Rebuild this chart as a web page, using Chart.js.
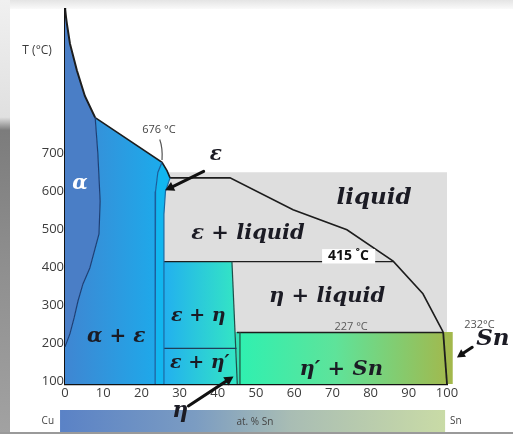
<!DOCTYPE html>
<html>
<head>
<meta charset="utf-8">
<script src="https://cdn.jsdelivr.net/npm/chart.js@4"></script>
<style>
  html, body { margin: 0; padding: 0; background: #fff; }
  #wrap { position: relative; width: 513px; height: 434px; overflow: hidden; }
  #topband { position: absolute; left: 0; top: 0; width: 513px; height: 9px;
             background: linear-gradient(#e4e4e4, #fafafa); }
  #leftband { position: absolute; left: 0; top: 0; width: 10px; height: 434px;
              background: linear-gradient(#f0f0f0 0%, #e0e0e0 27%, #7c7c7c 30%, #8e8e8e 60%, #a2a2a2 100%); }
  #bottomband { position: absolute; left: 0; top: 432px; width: 513px; height: 2px; background: #9a9a9a; }
  canvas { position: absolute; left: 0; top: 0; }
</style>
</head>
<body>
<div id="wrap">
  <div id="topband"></div>
  <div id="leftband"></div>
  <div id="bottomband"></div>
  <canvas id="c" width="513" height="434"></canvas>
</div>
<script>
// Axis ticks
const xTicks = [0, 10, 20, 30, 40, 50, 60, 70, 80, 90, 100];
const yTicks = [100, 200, 300, 400, 500, 600, 700];
const T_MIN = 92, T_MAX = 1082;

// Phase boundaries, [at.% Sn, T (°C)]
const cuLiquidus = [[0, 1080], [0.5, 1042], [1.3, 990], [3.1, 920], [5.2, 852], [7.9, 795]];
const upperLiquidus = [[7.9, 795], [25.4, 677], [26.7, 655], [27.5, 636], [43.2, 636],
                       [59.7, 552], [73.8, 499], [85.9, 416], [93.7, 330], [99, 229]];
const alphaSolvus = [[7.9, 795], [8.6, 700], [9.2, 575], [8.9, 488], [6.5, 398],
                     [4.7, 356], [3.4, 311], [2.4, 267], [1.3, 225], [0, 190]];
const epsLeft = [[25.4, 677], [24.3, 650], [23.7, 600], [23.6, 92]];
const epsRight = [[27.5, 636], [26.3, 600], [25.9, 540], [25.9, 92]];
const line415 = [[25.9, 415], [85.9, 415]];
const epsEtaRight = [[43.7, 415], [45.1, 92]];
const etaPrimeLeft = [[45.8, 229], [45.8, 92]];
const line186 = [[25.9, 186], [44.9, 186]];
const line227 = [[45, 228], [99, 228]];
const snEdge = [[99, 229], [100, 92]];

// Phase fields
const liquidBox = [[25.9, 651], [100, 651], [100, 92], [25.9, 92]];
const epsField = [[25.4, 677], [26.7, 655], [27.5, 636], [26.3, 600], [25.9, 540], [25.9, 92],
                  [23.6, 92], [23.7, 600], [24.3, 650]];
const etaStrip = [[44.6, 229], [45.8, 229], [45.8, 92], [45.1, 92]];
const etaPrimeSn = [[45.8, 229], [101.5, 229], [101.5, 92], [45.8, 92]];

const pts = a => a.map(([x, y]) => ({ x, y }));

function polyPath(ctx, sx, sy, arr) {
  ctx.beginPath();
  arr.forEach(([x, y], i) => {
    const px = sx.getPixelForValue(x), py = sy.getPixelForValue(y);
    if (i === 0) ctx.moveTo(px, py); else ctx.lineTo(px, py);
  });
  ctx.closePath();
}

function hGrad(ctx, sx, x0, x1, stops) {
  const g = ctx.createLinearGradient(sx.getPixelForValue(x0), 0, sx.getPixelForValue(x1), 0);
  stops.forEach(([o, c]) => g.addColorStop(o, c));
  return g;
}

function arrow(ctx, x1, y1, x2, y2, w, head) {
  const a = Math.atan2(y2 - y1, x2 - x1);
  ctx.save();
  ctx.strokeStyle = '#111'; ctx.fillStyle = '#111'; ctx.lineWidth = w; ctx.lineCap = 'round';
  ctx.beginPath();
  ctx.moveTo(x1, y1);
  ctx.lineTo(x2 - Math.cos(a) * head * 0.7, y2 - Math.sin(a) * head * 0.7);
  ctx.stroke();
  ctx.beginPath();
  ctx.moveTo(x2, y2);
  ctx.lineTo(x2 - head * Math.cos(a) + head * 0.55 * Math.sin(a), y2 - head * Math.sin(a) - head * 0.55 * Math.cos(a));
  ctx.lineTo(x2 - head * Math.cos(a) - head * 0.55 * Math.sin(a), y2 - head * Math.sin(a) + head * 0.55 * Math.cos(a));
  ctx.closePath();
  ctx.fill();
  ctx.restore();
}

const phaseFont = s => 'italic bold ' + s + 'px "DejaVu Serif"';

const phaseFields = {
  id: 'phaseFields',
  beforeDatasetsDraw(chart) {
    const { ctx, scales: { x: sx, y: sy } } = chart;
    ctx.save();
    // liquid / two-phase liquid fields
    polyPath(ctx, sx, sy, liquidBox);
    ctx.fillStyle = '#dedede'; ctx.fill();
    // alpha
    polyPath(ctx, sx, sy, cuLiquidus.concat(alphaSolvus.slice(1)));
    ctx.fillStyle = '#4a7ec6'; ctx.fill();
    // alpha + epsilon
    const aePoly = upperLiquidus.slice(0, 2).concat(epsLeft.slice(1), [[0, 92]], alphaSolvus.slice().reverse());
    polyPath(ctx, sx, sy, aePoly);
    ctx.fillStyle = hGrad(ctx, sx, 0, 24, [[0, '#3f86d2'], [1, '#1ea9ea']]); ctx.fill();
    // epsilon
    polyPath(ctx, sx, sy, epsField);
    ctx.fillStyle = '#12b6ef'; ctx.fill();
    // epsilon + eta
    polyPath(ctx, sx, sy, [line415[0], epsEtaRight[0], epsEtaRight[1], [25.9, 92]]);
    ctx.fillStyle = hGrad(ctx, sx, 25.9, 44, [[0, '#22b0ef'], [1, '#33e3c6']]); ctx.fill();
    // eta
    polyPath(ctx, sx, sy, etaStrip);
    ctx.fillStyle = '#33dfb6'; ctx.fill();
    // eta' + Sn
    polyPath(ctx, sx, sy, etaPrimeSn);
    ctx.fillStyle = hGrad(ctx, sx, 46, 101, [[0, '#30f0b0'], [0.45, '#5ee39a'], [1, '#a3b84c']]); ctx.fill();

    // 227 °C label sits under the eutectic line
    ctx.font = '11px "Open Sans"';
    ctx.fillStyle = '#5a5a5a'; ctx.textAlign = 'center'; ctx.textBaseline = 'middle';
    ctx.fillText('227 °C', sx.getPixelForValue(74.9), sy.getPixelForValue(243));
    ctx.restore();
  },
  afterDatasetsDraw(chart) {
    const { ctx, chartArea, scales: { x: sx, y: sy } } = chart;
    const X = v => sx.getPixelForValue(v), Y = v => sy.getPixelForValue(v);
    ctx.save();
    ctx.textAlign = 'center'; ctx.textBaseline = 'middle';

    // composition bar
    const bx0 = X(-1.3), bx1 = X(99.5), by0 = chartArea.bottom + 26, bh = 22;
    const g = ctx.createLinearGradient(bx0, 0, bx1, 0);
    g.addColorStop(0, '#5a82c6'); g.addColorStop(0.35, '#7b9cc2');
    g.addColorStop(0.6, '#a9bdb4'); g.addColorStop(1, '#c9dba6');
    ctx.fillStyle = g; ctx.fillRect(bx0, by0, bx1 - bx0, bh);
    ctx.fillStyle = '#444'; ctx.font = '10px "Open Sans"';
    ctx.textAlign = 'right'; ctx.fillText('Cu', bx0 - 6, by0 + 11);
    ctx.textAlign = 'left'; ctx.fillText('Sn', bx1 + 5, by0 + 11);
    ctx.textAlign = 'center'; ctx.fillText('at. % Sn', X(49.7), by0 + 12);

    // phase names
    ctx.fillStyle = '#1b1b24';
    ctx.font = phaseFont(23); ctx.fillText('liquid', X(80.9), Y(583));
    ctx.font = phaseFont(21); ctx.fillText('ε + liquid', X(47.9), Y(488));
    ctx.font = phaseFont(21); ctx.fillText('η + liquid', X(68.6), Y(322));
    ctx.font = phaseFont(20); ctx.fillText('α + ε', X(13.4), Y(217));
    ctx.font = phaseFont(19); ctx.fillText('ε + η', X(34.9), Y(272));
    ctx.font = phaseFont(19); ctx.fillText('ε + η′', X(35.3), Y(146));
    ctx.font = phaseFont(21); ctx.fillText('η′ + Sn', X(72.3), Y(131));
    ctx.fillStyle = '#ffffff';
    ctx.font = phaseFont(20); ctx.fillText('α', X(3.9), Y(619));

    // 415 °C tag on white
    ctx.fillStyle = '#ffffff';
    ctx.fillRect(X(67.3), Y(448), X(81.2) - X(67.3), Y(410) - Y(448));
    ctx.fillStyle = '#111';
    ctx.font = 'bold 14px "Open Sans"';
    ctx.fillText('415 ˚C', X(74.2), Y(429));

    // 676 °C with leader
    ctx.fillStyle = '#444'; ctx.font = '11px "Open Sans"';
    ctx.fillText('676 °C', X(24.6), Y(763));
    ctx.strokeStyle = '#555'; ctx.lineWidth = 1.2;
    ctx.beginPath();
    ctx.moveTo(X(24.8), Y(737));
    ctx.quadraticCurveTo(X(25.6), Y(715), X(25.4), Y(683));
    ctx.stroke();

    // epsilon pointer
    ctx.fillStyle = '#1b1b24'; ctx.font = phaseFont(20);
    ctx.fillText('ε', X(39.5), Y(697));
    arrow(ctx, X(36.3), Y(653), X(26.2), Y(603), 3, 9);

    // eta pointer below the axis
    ctx.fillStyle = '#1b1b24'; ctx.font = phaseFont(22);
    ctx.fillText('η', X(30.2), Y(20));
    arrow(ctx, X(32.3), Y(34), X(44.1), Y(112), 3, 9);

    // Sn end member
    ctx.fillStyle = '#555'; ctx.font = '11px "Open Sans"';
    ctx.fillText('232°C', X(108.5), Y(249));
    ctx.fillStyle = '#1b1b24'; ctx.font = phaseFont(23);
    ctx.fillText('Sn', X(112), Y(210));
    arrow(ctx, X(106.6), Y(189), X(102.6), Y(162), 3, 8);

    // axis caption
    ctx.fillStyle = '#3c3c3c'; ctx.font = '12px "Open Sans"';
    ctx.fillText('T (°C)', X(-7.3), Y(972));
    ctx.restore();
  }
};

const blackLine = (data, w) => ({ data: pts(data), borderColor: '#1d1d1d', borderWidth: w || 1.6 });
const thinLine = (data, c) => ({ data: pts(data), borderColor: c, borderWidth: 1.2 });

const datasets = [
  thinLine(alphaSolvus, '#1d3f75'),
  thinLine(epsLeft, '#1b5d9c'),
  thinLine(epsRight, '#1b6aa3'),
  thinLine(line186, '#1f3f5a'),
  thinLine(epsEtaRight, '#1f4f4a'),
  thinLine(etaPrimeLeft, '#1f4f3a'),
  blackLine(cuLiquidus, 2),
  blackLine(upperLiquidus, 1.6),
  blackLine(line415, 1.4),
  blackLine(line227, 1.6),
  blackLine(snEdge, 1.8)
].map(d => Object.assign(d, { showLine: true, pointRadius: 0, fill: false, clip: 6 }));

new Chart(document.getElementById('c'), {
  type: 'scatter',
  data: { datasets },
  plugins: [phaseFields],
  options: {
    responsive: false,
    animation: false,
    layout: { padding: { left: 25, right: 66, top: 5, bottom: 30 } },
    plugins: { legend: { display: false }, tooltip: { enabled: false } },
    scales: {
      x: {
        type: 'linear', min: 0, max: 100, z: 1,
        afterFit: s => { s.height = 20; },
        afterBuildTicks: s => { s.ticks = xTicks.map(v => ({ value: v })); },
        grid: { display: false, drawTicks: false },
        border: { display: true, color: '#111', width: 2.2 },
        ticks: { padding: 1, color: '#3c3c3c', font: { family: 'Open Sans', size: 13 } }
      },
      y: {
        type: 'linear', min: T_MIN, max: T_MAX, z: 1,
        afterFit: s => { s.width = 40; },
        afterBuildTicks: s => { s.ticks = yTicks.map(v => ({ value: v })); },
        grid: { display: false, drawTicks: false },
        border: { display: true, color: '#111', width: 2.2 },
        ticks: { padding: 1, color: '#3c3c3c', font: { family: 'Open Sans', size: 13 } }
      }
    }
  }
});
</script>
</body>
</html>
